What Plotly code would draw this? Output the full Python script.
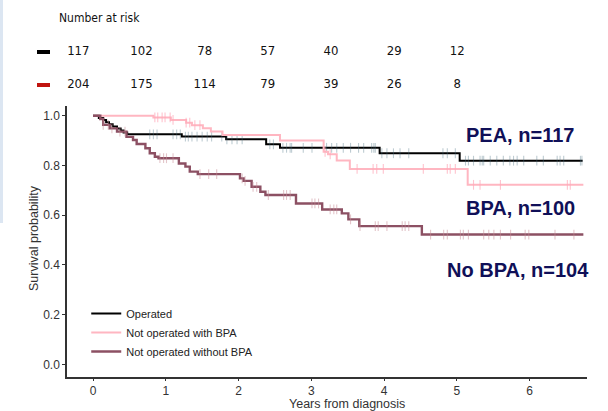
import numpy as np
import plotly.graph_objects as go

# ---------------- data ----------------
# Kaplan-Meier step curves (time in years, survival probability)
op_time = [0, 0.08, 0.14, 0.18, 0.22, 0.27, 0.33, 0.38, 0.42, 0.47, 1.22, 1.83, 2.38, 2.57, 3.94, 5.04, 6.73]
op_surv = [1.0, 0.991, 0.983, 0.974, 0.966, 0.957, 0.949, 0.940, 0.932, 0.925, 0.916, 0.905, 0.885, 0.871, 0.849, 0.819, 0.819]

bpa_time = [0, 0.83, 1.07, 1.28, 1.36, 1.51, 1.62, 1.78, 2.57, 3.17, 3.23, 3.35, 3.53, 5.15, 6.74]
bpa_surv = [1.0, 0.993, 0.983, 0.972, 0.962, 0.950, 0.936, 0.922, 0.900, 0.855, 0.845, 0.820, 0.786, 0.722, 0.722]

nobpa_time = [0, 0.10, 0.14, 0.23, 0.33, 0.46, 0.55, 0.60, 0.72, 0.78, 0.85, 0.90, 1.18, 1.27, 1.33, 1.44,
              2.02, 2.07, 2.18, 2.30, 2.37, 2.79, 3.15, 3.42, 3.51, 3.66, 4.52, 6.74]
nobpa_surv = [1.0, 0.987, 0.963, 0.949, 0.936, 0.915, 0.902, 0.886, 0.869, 0.849, 0.835, 0.829, 0.808, 0.795, 0.775, 0.765,
              0.748, 0.738, 0.714, 0.694, 0.681, 0.647, 0.623, 0.607, 0.583, 0.556, 0.522, 0.522]

# censoring times
op_cens = [0.78, 0.83, 0.88, 1.10, 1.15, 1.20, 1.27, 1.31, 1.36, 1.43, 1.50, 1.57, 1.63, 1.77, 1.84, 1.91, 1.98, 2.05,
           2.43, 2.48, 2.61, 2.66, 2.71, 2.73, 2.89, 3.01, 3.21, 3.28, 3.35, 3.44, 3.54, 3.65, 3.72, 3.83, 3.86, 3.88,
           3.97, 4.04, 4.13, 4.22, 4.34, 4.81, 4.87, 4.98, 5.12, 5.16, 5.23, 5.32, 5.35, 5.37, 5.46, 5.55, 5.64, 5.73,
           5.78, 5.83, 5.92, 6.10, 6.19, 6.38, 6.42, 6.47, 6.70, 6.72]
bpa_cens = [0.85, 0.89, 0.95, 0.99, 1.06, 1.10, 1.28, 1.33, 1.40, 1.47, 3.19, 3.26, 3.63, 3.85, 3.90, 3.99,
            4.54, 4.87, 4.91, 4.98, 5.23, 5.32, 5.60, 6.52, 6.56]
nobpa_cens = [0.14, 0.21, 0.26, 0.37, 0.44, 0.92, 0.97, 1.01, 1.10, 1.47, 1.59, 1.70, 2.05, 2.09, 2.20, 2.25, 2.41,
              2.62, 2.66, 2.71, 3.01, 3.05, 3.10, 3.26, 3.31, 3.35, 3.54, 3.67, 3.88, 3.92, 4.04, 4.25, 4.29, 4.34,
              4.64, 4.82, 4.87, 5.05, 5.09, 5.16, 5.37, 5.44, 5.51, 5.60, 5.74, 5.94, 5.99, 6.35, 6.61]

group_names = ["Operated", "Not operated with BPA", "Not operated without BPA"]
group_labels = ["PEA, n=117", "BPA, n=100", "No BPA, n=104"]

risk_times = [0, 1, 2, 3, 4, 5, 6]
risk_operated = [117, 102, 78, 57, 40, 29, 12]
risk_not_operated = [204, 175, 114, 79, 39, 26, 8]

x_ticks = [0, 1, 2, 3, 4, 5, 6]
y_ticks = [0.0, 0.2, 0.4, 0.6, 0.8, 1.0]

# ---------------- style ----------------
C_OP = "#000000"
C_BPA = "#FFB6C1"
C_NOBPA = "#8C5063"
C_NAVY = "#101058"
FONT = "Liberation Sans, Arial, sans-serif"
NARROW = "Liberation Sans Narrow, Arial Narrow, DejaVu Sans Condensed, Liberation Sans, sans-serif"


def step_value(times, surv, t):
    idx = np.searchsorted(np.array(times), np.array(t), side="right") - 1
    return list(np.array(surv)[idx])


fig = go.Figure()

curves = [
    (op_time, op_surv, op_cens, C_OP, 2.0, "rgba(70,110,125,0.35)"),
    (bpa_time, bpa_surv, bpa_cens, C_BPA, 2.0, "rgba(255,170,185,0.7)"),
    (nobpa_time, nobpa_surv, nobpa_cens, C_NOBPA, 2.4, "rgba(200,140,150,0.5)"),
]

for (t, s, c, col, w, ccol), name in zip(curves, group_names):
    fig.add_trace(go.Scatter(
        x=t, y=s, mode="lines", name=name,
        line=dict(color=col, width=w, shape="hv"),
        xaxis="x", yaxis="y", legendgroup=name,
    ))
    fig.add_trace(go.Scatter(
        x=c, y=step_value(t, s, c), mode="markers", showlegend=False, legendgroup=name,
        marker=dict(symbol="line-ns", size=7, line=dict(color=ccol, width=1.1)),
        hoverinfo="skip", xaxis="x", yaxis="y",
    ))

# number at risk table (hidden axes x2/y2)
fig.add_trace(go.Scatter(
    x=risk_times, y=[2] * len(risk_times), text=[str(v) for v in risk_operated],
    mode="text", textfont=dict(family=NARROW, size=13, color="#111111"),
    xaxis="x2", yaxis="y2", showlegend=False, cliponaxis=False, hoverinfo="skip",
))
fig.add_trace(go.Scatter(
    x=risk_times, y=[1] * len(risk_times), text=[str(v) for v in risk_not_operated],
    mode="text", textfont=dict(family=NARROW, size=13, color="#111111"),
    xaxis="x2", yaxis="y2", showlegend=False, cliponaxis=False, hoverinfo="skip",
))

axis_common = dict(
    showgrid=False, zeroline=False, showline=True, linecolor="#333333", linewidth=1.5,
    ticks="outside", ticklen=3, tickwidth=1.2, tickcolor="#333333",
    tickfont=dict(family=FONT, size=12, color="#333333"),
)

fig.update_layout(
    width=608, height=411,
    margin=dict(l=67, r=21, t=0, b=34),
    paper_bgcolor="white", plot_bgcolor="white",
    xaxis=dict(range=[-0.3575, 6.79], tickvals=x_ticks, domain=[0, 1], anchor="y", **axis_common),
    yaxis=dict(range=[-0.051, 1.039], tickvals=y_ticks, tickformat=".1f", domain=[0, 0.7188], anchor="x",
               **axis_common),
    xaxis2=dict(range=[-0.179, 8.053], domain=[0, 1], anchor="y2", visible=False),
    yaxis2=dict(range=[0.394, 3.576], domain=[0.7215, 1], anchor="x2", visible=False),
    legend=dict(x=0.037, y=0.207, xanchor="left", yanchor="top", bgcolor="rgba(0,0,0,0)",
                font=dict(family=FONT, size=11, color="#222222"), tracegroupgap=0),
    showlegend=True,
)
fig.update_xaxes(ticklen=2, selector=dict(anchor="y"))

annotations = [
    dict(text="Number at risk", x=-0.0192, y=3.03, xref="paper", yref="y2", xanchor="left", yanchor="middle",
         showarrow=False, font=dict(family=NARROW, size=12, color="#111111")),
    dict(text="Years from diagnosis", x=0.539, y=(377 - 412) / 377, xref="paper", yref="paper", xanchor="center",
         yanchor="bottom", showarrow=False, font=dict(family=FONT, size=12.5, color="#333333"),
         borderpad=0),
    dict(text="Survival probability", x=-0.0635, y=0.3687, xref="paper", yref="paper", textangle=-90,
         xanchor="center", yanchor="middle", showarrow=False, font=dict(family=FONT, size=12.5, color="#333333")),
]
label_pos = [(464.3, 135), (464.3, 208), (445, 270)]
for lab, (px, py) in zip(group_labels, label_pos):
    annotations.append(dict(text="<b>" + lab + "</b>", x=(px - 67) / 520, y=(377 - py) / 377,
                            xref="paper", yref="paper", xanchor="left", yanchor="middle", showarrow=False,
                            font=dict(family=FONT, size=20, color=C_NAVY)))
fig.update_layout(annotations=annotations)

fig.add_shape(type="line", xref="paper", yref="paper", x0=(37 - 67) / 520, x1=(50 - 67) / 520,
              y0=(377 - 52) / 377, y1=(377 - 52) / 377, line=dict(color="#000000", width=4))
fig.add_shape(type="line", xref="paper", yref="paper", x0=(37 - 67) / 520, x1=(50 - 67) / 520,
              y0=(377 - 85) / 377, y1=(377 - 85) / 377, line=dict(color="#C0140F", width=4))
fig.add_shape(type="rect", xref="paper", yref="paper", x0=(0 - 67) / 520, x1=(3 - 67) / 520,
              y0=(377 - 223) / 377, y1=1, line=dict(width=0), fillcolor="#DCE6F2", layer="below")

fig.write_html("out.html", config={"displayModeBar": False},
               post_script="document.body.style.margin='0';document.body.style.overflow='hidden';")
